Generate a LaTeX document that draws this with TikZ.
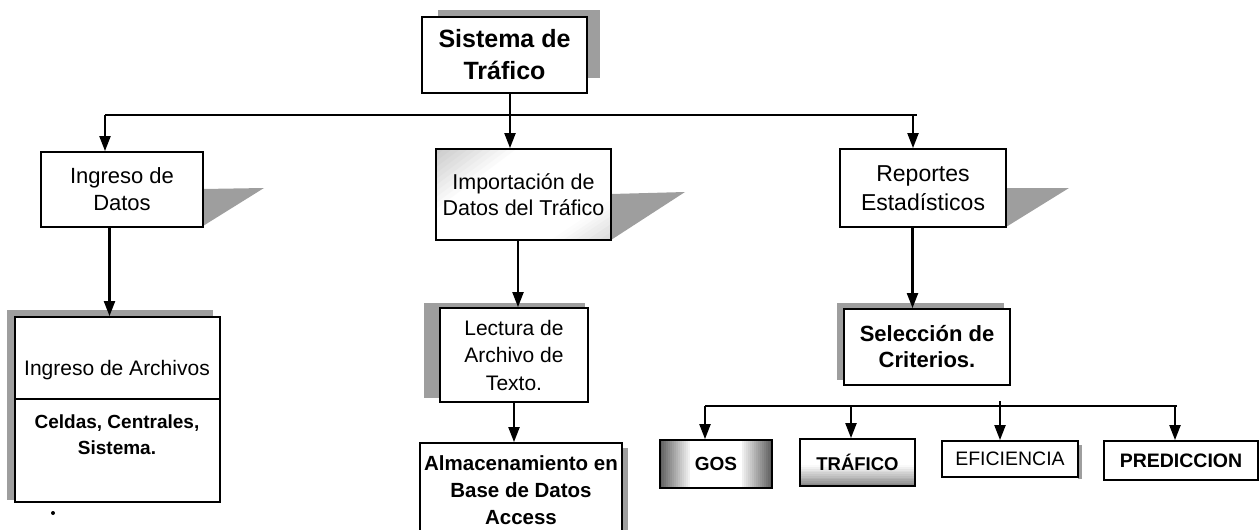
\documentclass[tikz,border=0pt]{standalone}
\usepackage{fontspec}
\setmainfont{Liberation Sans}
\usetikzlibrary{arrows.meta,calc}
\begin{document}
\begin{tikzpicture}[x=1pt,y=-1pt]
\tikzset{
  box/.style={draw, line width=1.8pt, fill=white, inner sep=0pt, align=center},
  conn/.style={line width=2.1pt},
  arr/.style={line width=2.1pt, -{Triangle[length=15pt,width=11pt]}},
  shd/.style={fill=black!38, draw=none},
  fA/.style={font=\bfseries\fontsize{25}{32}\selectfont},
  fB/.style={font=\fontsize{22}{27}\selectfont},
  fC/.style={font=\fontsize{21}{27.5}\selectfont},
  fD/.style={font=\bfseries\fontsize{20.5}{27}\selectfont},
  fE/.style={font=\bfseries\fontsize{19}{26}\selectfont},
}
\useasboundingbox (0,0) rectangle (1259,530);
% ---------- shadows ----------
\fill[shd] (438,10) rectangle (600,78);
\fill[shd] (203,189) -- (264,188) -- (203,226) -- cycle;
\fill[shd] (611,194) -- (685,192) -- (611,240) -- cycle;
\fill[shd] (1006,188) -- (1069,188) -- (1006,227) -- cycle;
\fill[shd] (7,310) rectangle (213,500);
\fill[shd] (424,303) rectangle (585,398);
\fill[shd] (426,448) rectangle (628,545);
\fill[shd] (837,303) rectangle (1004,380);
\fill[shd] (1078,445) rectangle (1082,479);
% ---------- level 0 ----------
\node[box, fA, minimum width=165pt, minimum height=76pt] (sis) at (504.5,55) {Sistema de\\Tráfico};
% ---------- level 1 ----------
\node[box, fB, minimum width=162pt, minimum height=75pt] (ingD) at (122,189.5) {Ingreso de\\Datos};
\node[box, font=\fontsize{21.5}{26}\selectfont, minimum width=175pt, minimum height=91pt,
  path picture={
    \foreach \i in {0,...,9}{
      \pgfmathsetmacro{\ha}{80*(1-\i/10)}
      \pgfmathsetmacro{\va}{60*(1-\i/10)}
      \pgfmathtruncatemacro{\ca}{2*\i+2}
      \fill[black!\ca] (path picture bounding box.north west) -- ++(\ha pt,0pt) -- ++(-\ha pt,-\va pt) -- cycle;
      \pgfmathsetmacro{\hb}{60*(1-\i/10)}
      \pgfmathsetmacro{\vb}{40*(1-\i/10)}
      \pgfmathtruncatemacro{\cb}{1.5*\i+1}
      \fill[black!\cb] (path picture bounding box.south east) -- ++(-\hb pt,0pt) -- ++(\hb pt,\vb pt) -- cycle;
    }
  }] (imp) at (523.5,194.5) {Importación de\\Datos del Tráfico};
\node[box, font=\fontsize{23}{29}\selectfont, minimum width=166pt, minimum height=78pt] (rep) at (923,188) {Reportes\\Estadísticos};
% ---------- level 2 ----------
\node[box, minimum width=205pt, minimum height=82pt] (archA) at (117.5,358) {};
\node[box, minimum width=205pt, minimum height=103pt] (archB) at (117.5,450.5) {};
\node[fC, inner sep=0pt] (archAt) at (117,370) {Ingreso de Archivos};
\node[fE, align=center, inner sep=0pt] (archBt) at (117,435) {Celdas, Centrales,\\Sistema.};
\fill (53,513) circle (2pt);
\node[box, fC, minimum width=148pt, minimum height=94pt] (lec) at (514,355) {Lectura de\\Archivo de\\Texto.};
\node[box, fD, minimum width=202pt, minimum height=95pt] (alm) at (521,490.5) {Almacenamiento en\\Base de Datos\\Access};
\node[box, font=\bfseries\fontsize{22}{26}\selectfont, minimum width=166pt, minimum height=76pt] (sel) at (927,347) {Selección de\\Criterios.};
% ---------- level 3 ----------
\node[box, font=\bfseries\fontsize{19}{24}\selectfont, minimum width=112pt, minimum height=48pt,
  path picture={
    \foreach \i in {0,...,14}{
      \pgfmathsetmacro{\xa}{2*\i}
      \pgfmathsetmacro{\xb}{2*\i+2.4}
      \pgfmathtruncatemacro{\cc}{62-4*\i}
      \fill[black!\cc] ([xshift=\xa pt]path picture bounding box.north west) rectangle ([xshift=\xb pt]path picture bounding box.south west);
      \fill[black!\cc] ([xshift=-\xa pt]path picture bounding box.north east) rectangle ([xshift=-\xb pt]path picture bounding box.south east);
    }
  }] (gos) at (716,464) {GOS};
\node[box, font=\bfseries\fontsize{18.5}{24}\selectfont, minimum width=115pt, minimum height=47pt,
  path picture={
    \foreach \i in {0,...,11}{
      \pgfmathsetmacro{\ya}{1.7*\i}
      \pgfmathsetmacro{\yb}{1.7*\i+2}
      \pgfmathtruncatemacro{\cd}{46-4*\i}
      \fill[black!\cd] ([yshift=\ya pt]path picture bounding box.south west) rectangle ([yshift=\yb pt]path picture bounding box.south east);
    }
  }] (tra) at (857.5,462.5) {TRÁFICO};
\node[box, font=\fontsize{19.5}{24}\selectfont, minimum width=136pt, minimum height=36pt] (efi) at (1010,459) {EFICIENCIA};
\node[box, font=\bfseries\fontsize{19.5}{24}\selectfont, minimum width=154pt, minimum height=39pt] (pre) at (1181,460.5) {PREDICCION};
% ---------- connectors ----------
\coordinate (jL) at (105,115);
\coordinate (jR) at (913,115);
\draw[conn] (jL) -- ([xshift=4pt]jR);
\coordinate (sisOut) at ([xshift=5.5pt]sis.south);
\draw[arr] (sisOut) -- (sisOut |- imp.north);
\draw[arr] (jL) -- (jL |- ingD.north);
\draw[arr] (jR) -- (jR |- rep.north);
\coordinate (ingOut) at ([xshift=-12.5pt]ingD.south);
\draw[arr] (ingOut) -- (ingOut |- archA.north);
\coordinate (impOut) at ([xshift=-5.5pt]imp.south);
\draw[arr] (impOut) -- (impOut |- lec.north);
\coordinate (lecOut) at (lec.south);
\draw[arr] (lecOut) -- (lecOut |- alm.north);
\coordinate (repOut) at ([xshift=-10.5pt]rep.south);
\draw[arr] (repOut) -- (repOut |- sel.north);
\coordinate (bL) at (705,406);
\coordinate (bR) at (1177,406);
\draw[conn] (bL) -- (bR);
\draw[arr] (bL) -- (bL |- gos.north);
\coordinate (bT) at (851,406);
\draw[arr] (bT) -- (bT |- tra.north);
\coordinate (bE) at (1000,401);
\draw[arr] (bE) -- (bE |- efi.north);
\coordinate (bP) at (1175,406);
\draw[arr] (bP) -- (bP |- pre.north);
\end{tikzpicture}
\end{document}
